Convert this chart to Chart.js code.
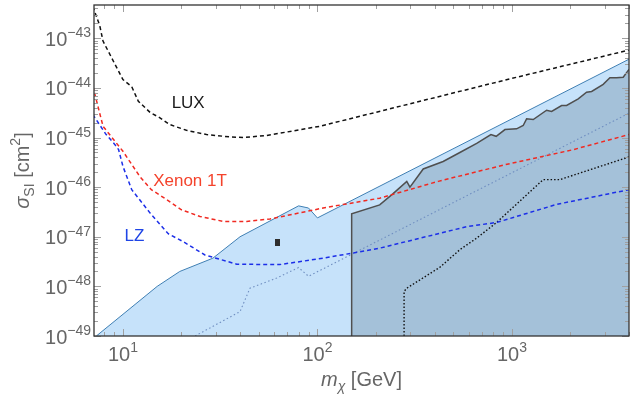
<!DOCTYPE html>
<html>
<head>
<meta charset="utf-8">
<script src="https://cdn.jsdelivr.net/npm/chart.js@4.4.1/dist/chart.umd.min.js"></script>
<style>
  html, body { margin: 0; padding: 0; background: #fff; }
  canvas { display: block; }
</style>
</head>
<body>
<canvas id="limits" width="634" height="394"></canvas>
<script>
// axis ranges (log-log)
const massRange = [7.1, 4000];
const sigmaRange = [1e-49, 4.7e-43];
const xTickExponents = [1, 2, 3];
const yTickExponents = [-49, -48, -47, -46, -45, -44, -43];

// LUX limit
const luxMass = [7.0, 7.6, 7.9, 9.1, 10, 11.1, 12.0, 13.8, 15.5, 17.4, 21.2, 26.9, 35.5, 41.5, 54.8, 103, 1000, 4000];
const luxSigma = [4.4e-43, 1.8e-43, 8.8e-44, 3.0e-44, 1.48e-44, 1.06e-44, 5.4e-45, 3.2e-45, 2.5e-45, 1.83e-45, 1.4e-45, 1.15e-45, 1.03e-45, 1.0e-45, 1.1e-45, 1.69e-45, 1.56e-44, 5.8e-44];

// Xenon 1T projection
const xenonMass = [7.0, 7.9, 9.1, 10, 12.2, 14.0, 16.8, 20.0, 24.9, 32.8, 43.3, 57.0, 107, 209, 418, 926, 2065, 4000];
const xenonSigma = [1.09e-44, 1.69e-45, 8.4e-46, 5.3e-46, 1.65e-46, 8.9e-47, 5.6e-47, 3.5e-47, 2.57e-47, 2.04e-47, 2.04e-47, 2.28e-47, 3.8e-47, 6.0e-47, 1.31e-46, 2.85e-46, 5.7e-46, 1.15e-45];

// LZ projection
const lzMass = [7.0, 8.2, 9.1, 9.5, 10, 11.1, 13.8, 17.1, 20.4, 26.4, 38.5, 64, 107, 166, 209, 585, 834, 1700, 4000];
const lzSigma = [2.9e-45, 1.15e-45, 7.2e-46, 5.7e-46, 2.63e-46, 8.9e-47, 3.0e-47, 1.15e-47, 8.0e-48, 4.3e-48, 2.8e-48, 2.75e-48, 3.7e-48, 5.0e-48, 5.9e-48, 1.6e-47, 1.94e-47, 4.5e-47, 8.9e-47];

// light blue allowed region
const lightMass = [7.3, 15, 19.6, 29, 40, 80, 90, 100, 4000];
const lightSigma = [1e-49, 1e-48, 2e-48, 3.7e-48, 1e-47, 4.2e-47, 3.8e-47, 2.4e-47, 3.8e-44];

// darker region (m > 150 GeV)
const darkMass = [150, 150, 209, 245, 288, 299, 350, 443, 540, 659, 780, 830, 921, 1057, 1143, 1190, 1287, 1508, 1600, 1801, 1910, 2193, 2421, 2570, 2947, 3190, 3452, 3734, 4000];
const darkSigma = [1e-49, 2.9e-47, 4.4e-47, 7.4e-47, 1.31e-46, 1.0e-46, 2.33e-46, 3.3e-46, 5.0e-46, 7.6e-46, 1.15e-45, 1.06e-45, 1.45e-45, 1.5e-45, 1.75e-45, 2.39e-45, 2.31e-45, 3.56e-45, 3.35e-45, 4.43e-45, 4.43e-45, 6.05e-45, 8.2e-45, 8.5e-45, 1.18e-44, 1.6e-44, 1.6e-44, 1.65e-44, 2.37e-44];

// thin dotted blue line
const dotBlueMass = [23.5, 40, 45, 61.7, 80, 90, 4000];
const dotBlueSigma = [1e-49, 3.1e-49, 9.2e-49, 1.47e-48, 2.4e-48, 1.6e-48, 3.1e-45];

// black dotted line
const dotBlackMass = [279, 279, 288, 427, 540, 659, 834, 1448, 1766, 4000];
const dotBlackSigma = [1e-49, 7.9e-49, 9.2e-49, 2.44e-48, 5.5e-48, 9.4e-48, 1.94e-47, 1.42e-46, 1.42e-46, 4.07e-46];

// single benchmark point
const markMass = [62];
const markSigma = [7.5e-48];

// curve labels
const labelText = ['LUX', 'Xenon 1T', 'LZ'];
const labelMass = [17.8, 14.3, 10.2];
const labelSigma = [5.0e-45, 1.31e-46, 1.01e-47];
const labelColor = ['#1a1a1a', '#f4432c', '#1f45e6'];

const FONT = "'Liberation Sans', Arial, sans-serif";
const TEXT_GRAY = '#666666';

const pts = (xs, ys) => xs.map((x, i) => ({ x: x, y: ys[i] }));

function line(ctx, x1, y1, x2, y2) {
    ctx.beginPath();
    ctx.moveTo(x1, y1);
    ctx.lineTo(x2, y2);
    ctx.stroke();
}

// draws runs of text with different fonts / offsets, aligned as a block
function drawRuns(ctx, runs, x, y, align) {
    let total = 0;
    runs.forEach(r => { ctx.font = r.font; r.w = ctx.measureText(r.t).width; total += r.w; });
    let cx = align === 'right' ? x - total : align === 'center' ? x - total / 2 : x;
    ctx.textAlign = 'left';
    ctx.textBaseline = 'alphabetic';
    runs.forEach(r => {
        ctx.font = r.font;
        ctx.fillText(r.t, cx, y + (r.dy || 0));
        cx += r.w;
    });
}

function supNum(n) {
    return String(n).replace('-', '\u2212');
}

// frame, inward ticks, tick labels, axis titles and curve labels
const framePlugin = {
    id: 'frame',
    afterDraw(chart) {
        const ctx = chart.ctx;
        const a = chart.chartArea;
        const xs = chart.scales.x, ys = chart.scales.y;
        ctx.save();

        ctx.strokeStyle = '#a0a0a0';
        ctx.lineWidth = 1;
        for (let e = 0; e <= 4; e++) {
            for (let k = 1; k <= 9; k++) {
                const v = k * Math.pow(10, e);
                if (v < massRange[0] || v > massRange[1]) continue;
                const px = Math.round(xs.getPixelForValue(v)) + 0.5;
                const len = k === 1 ? 7 : 4;
                line(ctx, px, a.bottom, px, a.bottom - len);
                line(ctx, px, a.top, px, a.top + len);
            }
        }
        for (let e = -49; e <= -43; e++) {
            for (let k = 1; k <= 9; k++) {
                const v = k * Math.pow(10, e);
                if (v < sigmaRange[0] * 0.999 || v > sigmaRange[1]) continue;
                const py = Math.round(ys.getPixelForValue(v)) + 0.5;
                const len = k === 1 ? 7 : 4;
                line(ctx, a.left, py, a.left + len, py);
                line(ctx, a.right, py, a.right - len, py);
            }
        }

        ctx.strokeStyle = '#333333';
        ctx.lineWidth = 1.3;
        ctx.strokeRect(a.left, a.top, a.right - a.left, a.bottom - a.top);

        // tick labels
        ctx.fillStyle = TEXT_GRAY;
        xTickExponents.forEach(e => {
            const px = xs.getPixelForValue(Math.pow(10, e));
            drawRuns(ctx, [
                { t: '10', font: '20px ' + FONT },
                { t: supNum(e), font: '14px ' + FONT, dy: -9 }
            ], px, a.bottom + 25, 'center');
        });
        yTickExponents.forEach(e => {
            const py = ys.getPixelForValue(Math.pow(10, e));
            drawRuns(ctx, [
                { t: '10', font: '20px ' + FONT },
                { t: supNum(e), font: '14px ' + FONT, dy: -8.5 }
            ], a.left - 3, py + 7.5, 'right');
        });

        // axis titles
        drawRuns(ctx, [
            { t: 'm', font: 'italic 20px ' + FONT },
            { t: '\u03c7', font: 'italic 14px ' + FONT, dy: 5 },
            { t: ' [GeV]', font: '20px ' + FONT }
        ], (a.left + a.right) / 2, 386, 'center');

        ctx.save();
        ctx.translate(29, (a.top + a.bottom) / 2);
        ctx.rotate(-Math.PI / 2);
        drawRuns(ctx, [
            { t: '\u03c3', font: 'italic 20px ' + FONT },
            { t: 'SI', font: '14px ' + FONT, dy: 5 },
            { t: ' [cm', font: '20px ' + FONT },
            { t: '2', font: '14px ' + FONT, dy: -9 },
            { t: ']', font: '20px ' + FONT }
        ], 0, 0, 'center');
        ctx.restore();

        // curve labels
        labelText.forEach((t, i) => {
            ctx.fillStyle = labelColor[i];
            ctx.font = '17px ' + FONT;
            ctx.textAlign = 'left';
            ctx.textBaseline = 'middle';
            ctx.fillText(t, xs.getPixelForValue(labelMass[i]), ys.getPixelForValue(labelSigma[i]));
        });

        ctx.restore();
    }
};

// small dark rectangle used as the benchmark marker
const markCanvas = document.createElement('canvas');
markCanvas.width = 5;
markCanvas.height = 7;
const mctx = markCanvas.getContext('2d');
mctx.fillStyle = '#2e2e2e';
mctx.fillRect(0, 0, 5, 7);

const lineBase = { showLine: true, pointRadius: 0, tension: 0, fill: false };

new Chart(document.getElementById('limits'), {
    type: 'scatter',
    data: {
        datasets: [
            Object.assign({}, lineBase, {
                label: 'allowed', data: pts(lightMass, lightSigma), order: 10,
                borderColor: '#3f7fb3', borderWidth: 1, backgroundColor: '#c6e2fa', fill: 'start'
            }),
            Object.assign({}, lineBase, {
                label: 'excluded', data: pts(darkMass, darkSigma), order: 9,
                borderColor: '#4f4f4f', borderWidth: 1.5, backgroundColor: '#a4c1d9', fill: 'start'
            }),
            Object.assign({}, lineBase, {
                label: 'dotted blue', data: pts(dotBlueMass, dotBlueSigma), order: 6,
                borderColor: '#6f8ec0', borderWidth: 1.1, borderDash: [1.5, 2.5]
            }),
            Object.assign({}, lineBase, {
                label: 'dotted black', data: pts(dotBlackMass, dotBlackSigma), order: 5,
                borderColor: '#111111', borderWidth: 1.4, borderDash: [1.5, 2]
            }),
            Object.assign({}, lineBase, {
                label: 'LUX', data: pts(luxMass, luxSigma), order: 4,
                borderColor: '#111111', borderWidth: 1.5, borderDash: [4, 3]
            }),
            Object.assign({}, lineBase, {
                label: 'Xenon 1T', data: pts(xenonMass, xenonSigma), order: 3,
                borderColor: '#f02a22', borderWidth: 1.5, borderDash: [4, 3]
            }),
            Object.assign({}, lineBase, {
                label: 'LZ', data: pts(lzMass, lzSigma), order: 2,
                borderColor: '#1c2fe8', borderWidth: 1.5, borderDash: [4, 3]
            }),
            {
                label: 'benchmark', data: pts(markMass, markSigma), order: 1,
                showLine: false, pointStyle: markCanvas, pointRadius: 3
            }
        ]
    },
    options: {
        responsive: false,
        animation: false,
        devicePixelRatio: 1,
        layout: { padding: { left: 94, right: 5, top: 5, bottom: 58 } },
        plugins: { legend: { display: false }, tooltip: { enabled: false } },
        scales: {
            x: { type: 'logarithmic', min: massRange[0], max: massRange[1], display: false },
            y: { type: 'logarithmic', min: sigmaRange[0], max: sigmaRange[1], display: false }
        }
    },
    plugins: [framePlugin]
});
</script>
</body>
</html>
